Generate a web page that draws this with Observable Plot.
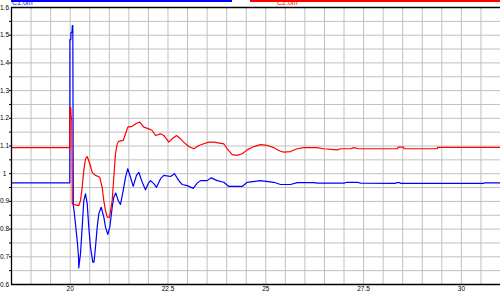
<!DOCTYPE html>
<html><head><meta charset="utf-8">
<script src="https://cdn.jsdelivr.net/npm/d3@7"></script>
<script src="https://cdn.jsdelivr.net/npm/@observablehq/plot@0.6"></script>
<style>
html,body{margin:0;padding:0;background:#fff;}
#wrap{position:relative;width:500px;height:294px;overflow:hidden;}
.lg{position:absolute;font-family:"Liberation Sans",sans-serif;font-size:7px;line-height:7px;}
</style>
</head><body>
<div id="wrap"></div>
<script>
// Series names
const seriesNames = ["C1.0m", "C2.0m"];
// Blue series (C1.0m): time, value
const blueX = [18.5,19.99,19.993,20.016,20.021,20.047,20.054,20.067,20.08,20.098,20.144,20.187,20.213,20.22,20.264,20.307,20.348,20.392,20.435,20.476,20.519,20.578,20.609,20.647,20.691,20.732,20.793,20.86,20.903,20.962,21.013,21.074,21.115,21.166,21.228,21.286,21.355,21.414,21.473,21.542,21.611,21.695,21.754,21.841,21.925,21.994,22.053,22.138,22.207,22.309,22.393,22.564,22.667,22.777,22.863,22.991,23.145,23.247,23.331,23.503,23.605,23.758,23.927,24.055,24.397,24.525,24.865,25.205,25.376,25.632,25.803,26.227,26.314,26.994,27.081,27.337,27.421,28.316,28.341,28.418,28.444,30.573,30.591,31.0];
const blueY = [0.967,0.967,1.484,1.484,1.51,1.51,1.535,1.535,0.885,0.867,0.807,0.748,0.699,0.66,0.712,0.807,0.903,0.927,0.892,0.807,0.735,0.681,0.681,0.735,0.807,0.856,0.879,0.843,0.807,0.781,0.807,0.879,0.915,0.93,0.903,0.889,0.939,0.987,1.018,0.987,0.954,0.994,1.005,0.969,0.942,0.964,0.975,0.964,0.951,0.982,0.994,0.99,1.0,0.975,0.961,0.957,0.947,0.966,0.975,0.975,0.985,0.975,0.969,0.954,0.954,0.969,0.975,0.969,0.961,0.961,0.968,0.968,0.966,0.966,0.969,0.969,0.966,0.965,0.968,0.968,0.965,0.965,0.967,0.967];
// Red series (C2.0m)
const redX = [18.5,19.99,19.993,20.016,20.023,20.041,20.054,20.072,20.22,20.264,20.307,20.348,20.392,20.435,20.502,20.563,20.647,20.757,20.818,20.859,20.903,20.946,21.005,21.074,21.115,21.158,21.202,21.243,21.355,21.414,21.473,21.585,21.695,21.78,21.882,22.01,22.097,22.181,22.309,22.393,22.521,22.608,22.718,22.82,22.904,23.032,23.16,23.288,23.416,23.544,23.671,23.927,24.014,24.142,24.269,24.397,24.525,24.694,24.865,25.036,25.205,25.376,25.461,25.632,25.803,25.972,26.314,26.483,26.826,26.91,27.166,27.25,27.378,28.367,28.38,28.52,28.533,29.382,29.39,31.0];
const redY = [1.094,1.094,1.239,1.239,1.21,1.192,0.892,0.889,0.885,0.903,0.951,1.012,1.054,1.062,1.036,1.005,0.994,0.987,0.951,0.903,0.867,0.843,0.843,0.903,0.987,1.072,1.108,1.117,1.12,1.144,1.168,1.171,1.182,1.186,1.168,1.162,1.156,1.138,1.144,1.138,1.114,1.126,1.138,1.126,1.114,1.098,1.09,1.102,1.108,1.114,1.114,1.108,1.09,1.069,1.066,1.072,1.086,1.098,1.105,1.102,1.094,1.081,1.078,1.08,1.09,1.094,1.094,1.09,1.086,1.09,1.09,1.094,1.09,1.09,1.096,1.096,1.09,1.09,1.095,1.095];
// Axis ticks
const xTickValues = [20, 22.5, 25, 27.5, 30];
const xTickLabels = ["20", "22.5", "25", "27.5", "30"];
const xGridValues = [19,19.5,20,20.5,21,21.5,22,22.5,23,23.5,24,24.5,25,25.5,26,26.5,27,27.5,28,28.5,29,29.5,30,30.5,31];
const yTickValues = [0.6,0.7,0.8,0.9,1.0,1.1,1.2,1.3,1.4,1.5,1.6];
const yTickLabels = ["0.6","0.7","0.8","0.9","1","1.1","1.2","1.3","1.4","1.5","1.6"];
const yGridValues = [0.65,0.7,0.75,0.8,0.85,0.9,0.95,1.0,1.05,1.1,1.15,1.2,1.25,1.3,1.35,1.4,1.45,1.5,1.55];

const blue = blueX.map((x, i) => ({x, y: blueY[i]}));
const red = redX.map((x, i) => ({x, y: redY[i]}));
const xt = xTickValues.map((v, i) => ({v, t: xTickLabels[i]}));
const yt = yTickValues.map((v, i) => ({v, t: yTickLabels[i]}));

const chart = Plot.plot({
  width: 500, height: 294,
  marginLeft: 11, marginRight: 0, marginTop: 7, marginBottom: 10,
  x: {type: "linear", domain: [18.5, 31], axis: null},
  y: {type: "linear", domain: [0.6, 1.6]},
  style: {background: "white", fontFamily: "Liberation Sans, sans-serif", fontSize: "6.5px", overflow: "visible"},
  marks: [
    Plot.ruleX(xGridValues, {stroke: "#c0c0c0", strokeWidth: 1}),
    Plot.ruleY(yGridValues, {stroke: "#c0c0c0", strokeWidth: 1}),
    Plot.line(blue, {x: "x", y: "y", stroke: "#0000ff", strokeWidth: 1.2}),
    Plot.line(red, {x: "x", y: "y", stroke: "#ff0000", strokeWidth: 1.2}),
    Plot.ruleX([18.5], {stroke: "black", strokeWidth: 1.3}),
    Plot.ruleY([0.6, 1.6], {stroke: "black", strokeWidth: 1.3}),
    Plot.axisY({ticks: yGridValues, tickSize: 2, tickPadding: 0, tickFormat: () => "", label: null, stroke: "black"}),
    Plot.text(yt, {y: "v", text: "t", frameAnchor: "left", dx: -7, textAnchor: "middle", fill: "black"}),
    Plot.text(xt, {x: "v", text: "t", frameAnchor: "bottom", dy: 6, fill: "black"})
  ]
});
const wrap = document.getElementById("wrap");
wrap.appendChild(chart);
chart.style.position = "absolute";
chart.style.left = "0"; chart.style.top = "0";

// Legend overlay at top
const leg = [
  {name: seriesNames[0], color: "#0000ff", left: 11, width: 221, tx: 12},
  {name: seriesNames[1], color: "#ff0000", left: 250, width: 250, tx: 277}
];
for (const l of leg) {
  const bar = document.createElement("div");
  bar.style.cssText = `position:absolute;left:${l.left}px;top:0;width:${l.width}px;height:1.5px;background:${l.color}`;
  wrap.appendChild(bar);
  const t = document.createElement("div");
  t.className = "lg";
  t.textContent = l.name;
  t.style.cssText += `left:${l.tx}px;top:-1px;color:${l.color}`;
  wrap.appendChild(t);
}
</script>
</body></html>
